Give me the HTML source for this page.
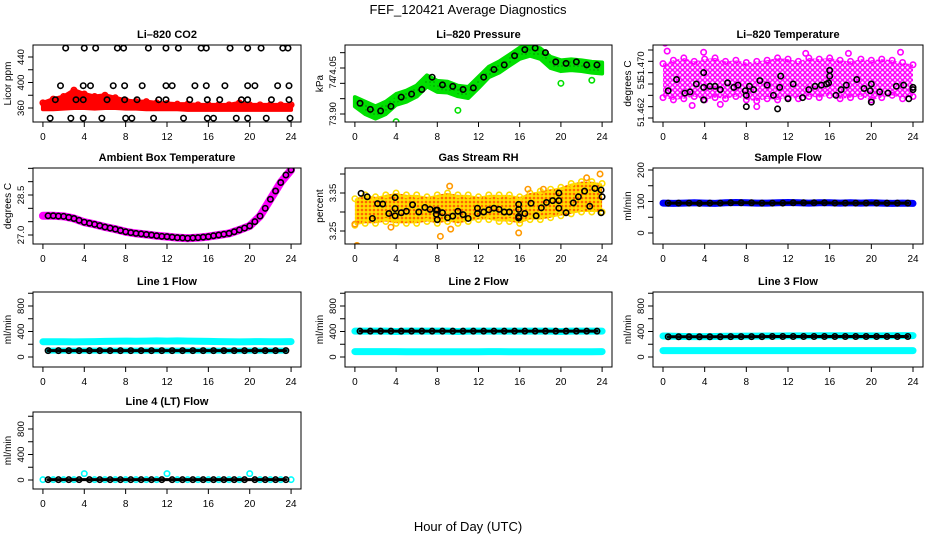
<!DOCTYPE html>
<html><head><meta charset="utf-8"><style>
body{margin:0;background:#fff;}
svg{display:block;font-family:"Liberation Sans",sans-serif;}
</style></head><body>
<svg id="c" width="936" height="540" viewBox="0 0 936 540">
<defs>
<pattern id="pmag" width="5" height="5" patternUnits="userSpaceOnUse"><rect width="5" height="5" fill="#ffffff"/><circle cx="2.5" cy="2.5" r="2" fill="none" stroke="#ff00ff" stroke-width="1.4"/></pattern>
<pattern id="porg" width="4" height="4" patternUnits="userSpaceOnUse"><rect width="4" height="4" fill="#ffdd00"/><circle cx="2" cy="2" r="1.3" fill="#ff6600"/></pattern>
<pattern id="pgrn" width="4" height="4" patternUnits="userSpaceOnUse"><rect width="4" height="4" fill="#00e000"/><circle cx="2" cy="2" r="0.6" fill="#006600"/></pattern>
</defs>
<text x="468" y="14" text-anchor="middle" font-size="13">FEF_120421  Average Diagnostics</text>
<text x="468" y="531" text-anchor="middle" font-size="13">Hour of Day (UTC)</text>
</svg>
<script>
const HRS=[0,1,2,3,4,5,6,7,8,9,10,11,12,13,14,15,16,17,18,19,20,21,22,23,24];
const HALF=[0.5,1.5,2.5,3.5,4.5,5.5,6.5,7.5,8.5,9.5,10.5,11.5,12.5,13.5,14.5,15.5,16.5,17.5,18.5,19.5,20.5,21.5,22.5,23.5];
const XTICKS=[0,4,8,12,16,20,24];
// CO2
const co2Lo=[358,358,359,360,360,359,360,360,359,359,358,358,358,358,357,357,357,357,357,357,357,357,357,357,357];
const co2Hi=[368,374,378,388,382,378,380,376,372,370,370,368,367,366,366,365,365,365,365,368,365,365,365,365,365];
const co2BlkT=[2.2,4.0,5.1,7.2,7.8,10.2,11.9,13.1,15.3,15.8,18.1,19.8,21.1,23.2,23.7,1.7,3.9,4.6,6.8,7.9,9.6,11.9,12.5,14.7,15.8,17.6,19.8,20.5,22.7,23.8,1.2,3.2,3.9,6.2,7.9,9.1,11.2,11.9,14.2,15.9,17.1,19.2,19.8,22.1,23.8,0.7,2.7,3.9,5.7,8.0,8.6,10.7,13.6,15.9,16.5,18.7,19.8,21.6,23.9];
const co2BlkV=[454,454,454,454,454,454,454,454,454,454,454,454,454,454,454,395,395,395,395,395,395,395,395,395,395,395,395,395,395,395,373,373,373,373,373,373,373,373,373,373,373,373,373,373,373,344,344,344,344,344,344,344,344,344,344,344,344,344,344];
// Pressure
const prLo=[73.925,73.9,73.885,73.9,73.93,73.94,73.957,73.99,73.972,73.97,73.958,73.952,73.985,74.02,74.035,74.058,74.08,74.09,74.08,74.05,74.04,74.043,74.04,74.035,74.032];
const prHi=[73.955,73.94,73.925,73.94,73.965,73.976,73.993,74.026,74.008,74.005,73.992,73.988,74.021,74.054,74.071,74.093,74.116,74.122,74.114,74.086,74.075,74.078,74.075,74.07,74.068];
const prBlk=[73.935,73.915,73.91,73.925,73.955,73.965,73.98,74.02,73.995,73.99,73.98,73.985,74.02,74.045,74.06,74.09,74.11,74.115,74.10,74.07,74.065,74.07,74.06,74.06];
const prOutT=[4,10,20,23];
const prOutV=[73.875,73.912,74.0,74.01];
// Li-820 temperature
const tmLo=[51.4638,51.4636,51.4637,51.4639,51.4636,51.4638,51.4637,51.4639,51.4636,51.4635,51.4637,51.4636,51.4638,51.4637,51.4639,51.4638,51.4640,51.4637,51.4638,51.4639,51.4636,51.4638,51.4640,51.4637,51.4639];
const tmHi=[51.4668,51.4671,51.4673,51.4670,51.4672,51.4673,51.4670,51.4671,51.4669,51.4670,51.4671,51.4673,51.4672,51.4670,51.4673,51.4672,51.4673,51.4671,51.4670,51.4672,51.4671,51.4672,51.4671,51.4669,51.4667];
const tmOutT=[0.2,0.4,3.9,8.2,13.7,17.8,22.8,5.5,9.0,2.8];
const tmOutV=[51.4686,51.4679,51.4678,51.4606,51.4677,51.4677,51.4678,51.4632,51.4630,51.4631];
const tmBlkT=[0.5,1.3,2.1,2.6,3.2,3.9,3.9,3.9,4.5,5.0,5.5,6.2,6.8,7.2,7.9,8.0,8.0,8.3,8.7,9.3,10.0,10.6,11.0,11.2,11.3,12.0,12.5,13.4,14.0,14.6,15.2,15.7,15.9,16.0,16.0,16.6,17.1,17.6,18.6,19.3,19.9,20.0,20.0,20.8,21.6,22.4,23.1,23.6,24.0,24.0,1.4];
const tmBlkV=[51.4644,51.4654,51.4642,51.4643,51.4650,51.4647,51.4636,51.4660,51.4648,51.4648,51.4645,51.4651,51.4647,51.4649,51.4644,51.4640,51.4630,51.4648,51.4645,51.4653,51.4649,51.4640,51.4628,51.4647,51.4657,51.4637,51.4650,51.4638,51.4645,51.4648,51.4649,51.4650,51.4651,51.4657,51.4662,51.4640,51.4645,51.4649,51.4654,51.4646,51.4644,51.4634,51.4650,51.4643,51.4642,51.4648,51.4649,51.4637,51.4645,51.4647,51.4610];
// Ambient
const amb=[27.72,27.72,27.70,27.62,27.48,27.40,27.30,27.22,27.12,27.06,27.02,26.97,26.94,26.90,26.88,26.90,26.94,27.00,27.06,27.19,27.34,27.71,28.34,28.97,29.44];
const ambBlk=[27.72,27.71,27.66,27.55,27.44,27.35,27.26,27.17,27.09,27.04,27.00,26.95,26.92,26.89,26.89,26.92,26.97,27.03,27.12,27.26,27.50,28.00,28.65,29.25];
// RH
const rhLo=[3.265,3.27,3.27,3.275,3.27,3.27,3.27,3.275,3.27,3.275,3.27,3.275,3.28,3.28,3.275,3.275,3.27,3.28,3.28,3.285,3.29,3.295,3.30,3.30,3.30];
const rhHi=[3.335,3.345,3.34,3.345,3.35,3.345,3.345,3.34,3.345,3.35,3.345,3.345,3.34,3.345,3.345,3.345,3.34,3.35,3.355,3.36,3.365,3.375,3.38,3.38,3.375];
const rhOutT=[0.2,8.3,9.2,9.3,15.9,16.8,18.3,22.5,23.8,0.0,3.5];
const rhOutV=[3.212,3.236,3.368,3.255,3.245,3.36,3.36,3.39,3.40,3.268,3.26];
const rhBlkT=[0.6,1.2,1.7,2.2,2.7,3.3,3.9,3.9,3.9,4.5,5.0,5.6,6.2,6.8,7.3,7.9,7.9,8.0,8.0,8.5,9.0,9.5,10.0,10.5,11.0,11.9,11.9,12.5,13.0,13.5,14.0,14.5,15.0,15.9,15.9,15.9,15.9,16.5,17.1,17.6,18.1,18.6,19.2,19.8,19.8,19.8,20.5,21.2,21.7,22.3,22.8,23.3,23.9,24,23.9];
const rhBlkV=[3.349,3.34,3.283,3.322,3.321,3.296,3.338,3.309,3.29,3.298,3.302,3.319,3.3,3.312,3.307,3.305,3.294,3.28,3.305,3.298,3.285,3.289,3.302,3.293,3.283,3.31,3.296,3.30,3.306,3.31,3.307,3.30,3.30,3.32,3.307,3.288,3.284,3.296,3.323,3.29,3.311,3.325,3.33,3.35,3.33,3.31,3.298,3.324,3.34,3.355,3.315,3.362,3.358,3.34,3.298];
// Sample flow
const sfBlue=[95,94,95,96,95,94,96,97,96,95,95,96,97,96,95,96,96,95,96,95,96,95,94,95,94];
const sfBlk=[95,95,95,94,95,95,96,96,96,95,95,95,96,96,96,96,95,95,95,95,95,95,95,95];
// Line flows
const l1Cyan=[240,240,240,238,240,242,245,248,250,248,250,252,250,252,250,248,246,242,240,238,240,242,240,240,242];
const l1Blk=[100,100,100,100,100,100,100,100,100,100,100,100,100,100,100,100,100,100,100,100,100,100,100,100];
const l2CyanHi=[405,405,405,405,400,405,405,405,405,405,400,405,405,405,405,405,405,405,405,405,400,405,405,405,405];
const l2CyanLo=[85,85,85,85,85,82,82,82,82,82,82,82,82,85,85,82,82,82,82,82,82,82,82,82,85];
const l2Blk=[405,405,405,405,405,405,405,405,405,405,405,405,405,405,405,405,405,405,405,405,405,405,405,405];
const l3CyanHi=[330,325,322,320,320,322,325,325,328,328,330,330,332,332,332,333,333,333,333,332,332,332,333,335,335];
const l3CyanLo=[100,100,100,100,100,100,100,100,100,100,100,100,100,100,100,100,100,100,100,100,100,100,100,100,100];
const l3Blk=[318,318,318,318,318,318,320,320,320,320,322,322,322,322,322,322,322,322,322,322,322,322,322,322];
const l4Cyan=[5,5,5,5,100,5,5,5,5,5,5,5,100,5,5,5,5,5,5,5,100,5,5,5,5];
const l4Blk=[5,5,5,5,5,5,5,5,5,5,5,5,5,5,5,5,5,5,5,5,5,5,5,5];

const svg=document.getElementById('c');
const NS='http://www.w3.org/2000/svg';
function mk(tag,attrs,parent){const e=document.createElementNS(NS,tag);for(const k in attrs)e.setAttribute(k,attrs[k]);(parent||svg).appendChild(e);return e;}
const COLS=[[33,301],[345,612],[653,923]];
const ROWS=[[45,122],[168,244],[292,367],[412,489]];

function panel(cfg){
  const [L,R]=COLS[cfg.col],[T,B]=ROWS[cfg.row];
  const g=mk('g',{});
  
  
  const xs=h=>L+(h+0.96)/25.92*(R-L);
  const ys=v=>cfg.p1+(v-cfg.v1)/(cfg.v2-cfg.v1)*(cfg.p2-cfg.p1);
  const clip='cl'+cfg.name;
  const cp=mk('clipPath',{id:clip},g);mk('rect',{x:L,y:T,width:R-L,height:B-T},cp);
  const plot=mk('g',{'clip-path':'url(#'+clip+')'},g);
  
  
  cfg.draw(plot,xs,ys);
  const box=mk('rect',{x:L,y:T,width:R-L,height:B-T,fill:'none',stroke:'#000','stroke-width':1},g);
  
  
  const t=mk('text',{x:(L+R)/2,y:T-7,'text-anchor':'middle','font-size':11,'font-weight':'bold'},g);
  t.textContent=cfg.title;
  
  
  mk('line',{x1:xs(0),x2:xs(24),y1:B,y2:B,stroke:'#000'},g);
  XTICKS.forEach(h=>{
    mk('line',{x1:xs(h),x2:xs(h),y1:B,y2:B+5,stroke:'#000'},g);
    const l=mk('text',{x:xs(h),y:B+18,'text-anchor':'middle','font-size':10},g);
    l.textContent=h;
    
    
  });
  const tk=cfg.yticks;
  mk('line',{x1:L,x2:L,y1:ys(tk[0]),y2:ys(tk[tk.length-1]),stroke:'#000'},g);
  tk.forEach(v=>mk('line',{x1:L-5,x2:L,y1:ys(v),y2:ys(v),stroke:'#000'},g));
  cfg.ylabels.forEach((v,i)=>{
    const y=ys(v);
    const l=mk('text',{x:L-9,y:y,'text-anchor':'middle','font-size':9.5,transform:`rotate(-90 ${L-9} ${y})`},g);
    l.textContent=cfg.ylabelText?cfg.ylabelText[i]:v;
    
    
  });
  const yl=mk('text',{x:L-22,y:(T+B)/2,'text-anchor':'middle','font-size':10,transform:`rotate(-90 ${L-22} ${(T+B)/2})`},g);
  yl.textContent=cfg.ylab;
  
  
}
function band(p,xs,ys,t,lo,hi,fill,stroke,sw){
  let d='M'+t.map((h,i)=>xs(h)+','+ys(hi[i])).join('L');
  for(let i=t.length-1;i>=0;i--)d+='L'+xs(t[i])+','+ys(lo[i]);
  const e=mk('path',{d:d+'Z',fill:fill,stroke:stroke,'stroke-width':sw,'stroke-linejoin':'round'},p);
  
  
}
function thick(p,xs,ys,t,v,col,w){
  const e=mk('polyline',{points:t.map((h,i)=>xs(h)+','+ys(v[i])).join(' '),fill:'none',stroke:col,'stroke-width':w,'stroke-linejoin':'round','stroke-linecap':'round'},p);
  
  
}
function pts(p,xs,ys,t,v,col){
  t.forEach((h,i)=>{
    const c=mk('circle',{cx:xs(h),cy:ys(v[i]),r:2.7,fill:'none',stroke:col,'stroke-width':1.6},p);
    
    
  });
}
const RED='#ff0000',GRN='#00e000',MAG='#ff00ff',ORG='#ff9900',YEL='#ffdd00',BLU='#0000ff',CYN='#00ffff';

panel({name:'li820-co2-panel',col:0,row:0,title:'Li\u2013820 CO2',ylab:'Licor ppm',v1:360,p1:108,v2:440,p2:57,
 yticks:[360,380,400,420,440],ylabels:[360,400,440],
 draw:(p,xs,ys)=>{band(p,xs,ys,HRS,co2Lo,co2Hi,RED,RED,4);pts(p,xs,ys,HRS,co2Hi,RED);pts(p,xs,ys,co2BlkT,co2BlkV,'#000');}});
panel({name:'li820-pressure-panel',col:1,row:0,title:'Li\u2013820 Pressure',ylab:'kPa',v1:73.90,p1:114,v2:74.05,p2:68,
 yticks:[73.90,73.95,74.00,74.05,74.10],ylabels:[73.90,74.00,74.05],ylabelText:['73.90','74','74.05'],
 draw:(p,xs,ys)=>{band(p,xs,ys,HRS,prLo,prHi,'url(#pgrn)',GRN,4);pts(p,xs,ys,prOutT,prOutV,GRN);pts(p,xs,ys,HALF,prBlk,'#000');}});
panel({name:'li820-temperature-panel',col:2,row:0,title:'Li\u2013820 Temperature',ylab:'degrees C',v1:51.462,p1:118,v2:51.468,p2:50,
 yticks:[51.462,51.463,51.464,51.465,51.466,51.467,51.468],ylabels:[51.4625,51.465,51.4666],ylabelText:['51.462','51','51.470'],
 draw:(p,xs,ys)=>{band(p,xs,ys,HRS,tmLo,tmHi,'url(#pmag)','none',0);pts(p,xs,ys,HRS,tmHi,MAG);pts(p,xs,ys,HRS,tmLo,MAG);pts(p,xs,ys,tmOutT,tmOutV,MAG);pts(p,xs,ys,tmBlkT,tmBlkV,'#000');}});
panel({name:'ambient-box-temperature-panel',col:0,row:1,title:'Ambient Box Temperature',ylab:'degrees C',v1:27.0,p1:235,v2:28.5,p2:195,
 yticks:[27.0,27.5,28.0,28.5,29.0,29.5],ylabels:[27.0,28.5],ylabelText:['27.0','28.5'],
 draw:(p,xs,ys)=>{thick(p,xs,ys,HRS,amb,MAG,8);pts(p,xs,ys,HALF,ambBlk,'#000');pts(p,xs,ys,HRS.slice(1),amb.slice(1),'#000');}});
panel({name:'gas-stream-rh-panel',col:1,row:1,title:'Gas Stream RH',ylab:'percent',v1:3.25,p1:231,v2:3.35,p2:193,
 yticks:[3.25,3.30,3.35,3.40],ylabels:[3.25,3.35],
 draw:(p,xs,ys)=>{band(p,xs,ys,HRS,rhLo,rhHi,'url(#porg)','none',0);pts(p,xs,ys,HRS,rhHi,YEL);pts(p,xs,ys,HRS,rhLo,YEL);pts(p,xs,ys,rhOutT,rhOutV,ORG);pts(p,xs,ys,rhBlkT,rhBlkV,'#000');}});
panel({name:'sample-flow-panel',col:2,row:1,title:'Sample Flow',ylab:'ml/min',v1:0,p1:233,v2:200,p2:170,
 yticks:[0,50,100,150,200],ylabels:[0,100,200],
 draw:(p,xs,ys)=>{thick(p,xs,ys,HRS,sfBlue,BLU,7);thick(p,xs,ys,HALF,sfBlk,'#000',3);pts(p,xs,ys,HALF,sfBlk,'#000');}});
const FT=[0,200,400,600,800,1000],FL=[0,400,800];
panel({name:'line1-flow-panel',col:0,row:2,title:'Line 1 Flow',ylab:'ml/min',v1:0,p1:357,v2:800,p2:306,yticks:FT,ylabels:FL,
 draw:(p,xs,ys)=>{thick(p,xs,ys,HRS,l1Cyan,CYN,7);thick(p,xs,ys,HALF,l1Blk,CYN,6);thick(p,xs,ys,HALF,l1Blk,'#000',3);pts(p,xs,ys,HALF,l1Blk,'#000');}});
panel({name:'line2-flow-panel',col:1,row:2,title:'Line 2 Flow',ylab:'ml/min',v1:0,p1:357,v2:800,p2:306,yticks:FT,ylabels:FL,
 draw:(p,xs,ys)=>{thick(p,xs,ys,HRS,l2CyanHi,CYN,7);thick(p,xs,ys,HRS,l2CyanLo,CYN,7);thick(p,xs,ys,HALF,l2Blk,'#000',3);pts(p,xs,ys,HALF,l2Blk,'#000');}});
panel({name:'line3-flow-panel',col:2,row:2,title:'Line 3 Flow',ylab:'ml/min',v1:0,p1:357,v2:800,p2:306,yticks:FT,ylabels:FL,
 draw:(p,xs,ys)=>{thick(p,xs,ys,HRS,l3CyanHi,CYN,7);thick(p,xs,ys,HRS,l3CyanLo,CYN,7);thick(p,xs,ys,HALF,l3Blk,'#000',3);pts(p,xs,ys,HALF,l3Blk,'#000');}});
panel({name:'line4-flow-panel',col:0,row:3,title:'Line 4 (LT) Flow',ylab:'ml/min',v1:0,p1:480,v2:800,p2:429,yticks:FT,ylabels:FL,
 draw:(p,xs,ys)=>{pts(p,xs,ys,HRS,l4Cyan,CYN);thick(p,xs,ys,HALF,l4Blk,'#000',3);pts(p,xs,ys,HALF,l4Blk,'#000');}});
</script>
</body></html>
